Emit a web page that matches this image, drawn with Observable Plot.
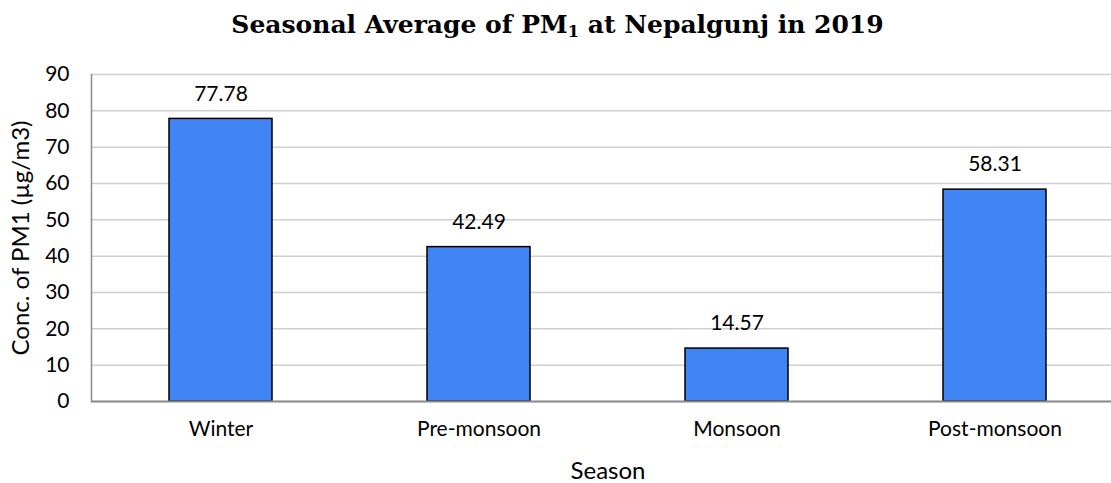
<!DOCTYPE html>
<html><head><meta charset="utf-8">
<script src="https://cdn.jsdelivr.net/npm/d3@7"></script>
<script src="https://cdn.jsdelivr.net/npm/@observablehq/plot@0.6"></script>
<style>
html,body{margin:0;padding:0;background:#fff;overflow:hidden;width:1111px;height:483px}
#title{height:58px;box-sizing:border-box;padding-top:10px;text-align:center;font-family:"DejaVu Serif",serif;font-weight:bold;font-size:25px;line-height:29px;color:#000;width:1111px;padding-left:4px;white-space:nowrap}
#title sub{font-size:0.65em;vertical-align:-0.25em;line-height:0}
#chart svg{display:block;overflow:hidden}
</style></head><body>
<div id="title">Seasonal Average of PM<sub>1</sub> at Nepalgunj in 2019</div>
<div id="chart"></div>
<script>
const seasons = ["Winter", "Pre-monsoon", "Monsoon", "Post-monsoon"];
const values = [77.78, 42.49, 14.57, 58.31];
const yTicks = [0, 10, 20, 30, 40, 50, 60, 70, 80, 90];
const xTitle = "Season";
const yTitle = "Conc. of PM1 (µg/m3)";

const data = seasons.map((s, i) => ({season: s, value: values[i]}));
const font = "Lato, 'Liberation Sans', sans-serif";

const chart = Plot.plot({
  width: 1111,
  height: 425,
  marginLeft: 91,
  marginRight: -13,
  marginTop: 16,
  marginBottom: 82,
  style: {fontFamily: font, fontSize: "21px", color: "#000", background: "#fff"},
  x: {domain: seasons, paddingInner: 0.6, paddingOuter: 0.3},
  y: {domain: [0, 90]},
  marks: [
    Plot.gridY(yTicks, {stroke: "#d0d0d0", strokeOpacity: 1, strokeWidth: 1.5}),
    Plot.axisY(yTicks, {tickSize: 0, tickPadding: 22, fontSize: 21, label: null}),
    Plot.axisY([], {tickSize: 0, fontSize: 24, label: yTitle, labelAnchor: "center", labelOffset: 80, labelArrow: "none"}),
    Plot.axisX({tickSize: 0, tickPadding: 20, fontSize: 21, label: null}),
    Plot.axisX([], {tickSize: 0, fontSize: 24, label: xTitle, labelAnchor: "center", labelOffset: 77, labelArrow: "none"}),
    Plot.barY(data, {x: "season", y: "value", fill: "#4184f3", stroke: "#000", strokeWidth: 1.5}),
    Plot.ruleY([0], {stroke: "#8c8c8c", strokeWidth: 2}),
    Plot.frame({anchor: "left", stroke: "#8c8c8c", strokeWidth: 1.5}),
    Plot.text(data, {x: "season", y: "value", text: d => d.value.toFixed(2), dy: -25, fontSize: 21, fill: "#000"})
  ]
});
document.getElementById("chart").appendChild(chart);
</script>
</body></html>
